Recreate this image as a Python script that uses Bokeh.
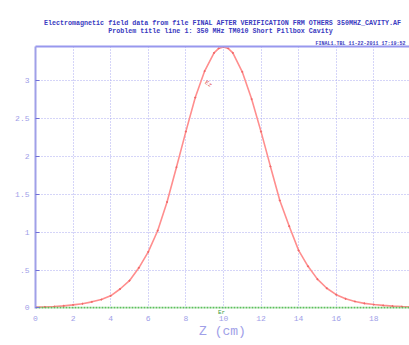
from bokeh.plotting import figure
from bokeh.models import (ColumnDataSource, FixedTicker, Label, LinearAxis, Range1d, Title)
from bokeh.embed import file_html
from bokeh.resources import INLINE

# ---- data ----
z_cm = [0, 0.5, 1, 1.5, 2, 2.5, 3, 3.5, 4, 4.5, 5, 5.5, 6, 6.5, 7, 7.5, 8, 8.5, 9, 9.5,
        9.75, 10, 10.25, 10.5, 11, 11.5, 12, 12.5, 13, 13.5, 14, 14.5, 15, 15.5, 16, 16.5,
        17, 17.5, 18, 18.5, 19, 19.5, 20]
ez = [0.01, 0.012, 0.018, 0.027, 0.04, 0.055, 0.08, 0.11, 0.16, 0.25, 0.36, 0.53, 0.74,
      1.02, 1.40, 1.86, 2.33, 2.78, 3.13, 3.37, 3.43, 3.45, 3.43, 3.37, 3.12, 2.76, 2.33,
      1.87, 1.42, 1.08, 0.76, 0.55, 0.38, 0.26, 0.175, 0.12, 0.085, 0.06, 0.045, 0.033,
      0.024, 0.018, 0.014]
er_z = [0, 20]
er = [0.0, 0.0]

x_ticks = [0, 2, 4, 6, 8, 10, 12, 14, 16, 18, 20]
y_ticks = [0, 0.5, 1, 1.5, 2, 2.5, 3]
y_tick_labels = ["0", ".5", "1", "1.5", "2", "2.5", "3"]

title1 = "Electromagnetic field data from file FINAL AFTER VERIFICATION FRM OTHERS 350MHZ_CAVITY.AF"
title2 = "Problem title line 1: 350 MHz TM010 Short Pillbox Cavity"
stamp = "FINAL1.TBL   11-22-2011  17:19:52"
x_label = "Z (cm)"
er_label_z = 9.9
ez_label_z, ez_label_v = 9.2, 2.96

AXC = "#a0a0e8"
GRIDC = "#aaaaf0"
TITLEC = "#3a3ac0"
MONO = "Liberation Mono"

p = figure(width=409, height=345, output_backend="svg", toolbar_location=None,
           x_range=Range1d(0, 19.9), y_range=Range1d(-0.008, 3.455),
           x_axis_location=None,
           min_border_left=35, min_border_right=0, min_border_top=46, min_border_bottom=37)
p.outline_line_color = None
p.background_fill_color = "white"

# "Er" series label just below the zero line (an unlabeled axis nearest the frame)
er_axis = LinearAxis(ticker=FixedTicker(ticks=[er_label_z]),
                     major_label_overrides={er_label_z: "Er"},
                     axis_line_color=None, major_tick_line_color=None,
                     minor_tick_line_color=None, major_tick_out=0, major_tick_in=0,
                     major_label_standoff=0, major_label_text_font=MONO,
                     major_label_text_font_size="6px", major_label_text_color="#40a040")
p.add_layout(er_axis, "below")

# main x axis
xax = LinearAxis(ticker=FixedTicker(ticks=x_ticks), axis_line_color=None,
                 major_tick_line_color=None, minor_tick_line_color=None,
                 major_tick_out=0, major_tick_in=0, major_label_standoff=-3,
                 major_label_text_font=MONO, major_label_text_font_size="8px",
                 major_label_text_color=AXC,
                 axis_label=x_label, axis_label_text_font=MONO,
                 axis_label_text_font_style="normal", axis_label_text_font_size="13px",
                 axis_label_text_color=AXC, axis_label_standoff=0)
p.add_layout(xax, "below")

# top border line (closest to the frame)
top = LinearAxis(ticker=FixedTicker(ticks=[]), axis_line_color="#9898ee", axis_line_width=2,
                 major_tick_line_color=None, minor_tick_line_color=None,
                 major_tick_out=0, major_tick_in=0, major_label_standoff=0)
p.add_layout(top, "above")

# stamp just above the border, then the two-line title (line 2 centred with
# non-breaking spaces, the font being monospaced)
p.add_layout(Title(text=stamp, text_font=MONO, text_font_style="bold", text_font_size="5px",
                   text_color=TITLEC, align="left", offset=280, standoff=0), "above")
pad = "\u00a0" * ((len(title1) - len(title2)) // 2)
p.title.text = title1 + "\n" + pad + title2
p.title.text_font = MONO
p.title.text_font_style = "bold"
p.title.text_font_size = "6.7px"
p.title.text_color = TITLEC
p.title.align = "center"
p.title.standoff = 8

# grid
p.xgrid.ticker = FixedTicker(ticks=x_ticks[1:])
p.ygrid.ticker = FixedTicker(ticks=y_ticks[1:])
for g in (p.xgrid, p.ygrid):
    g.grid_line_color = GRIDC
    g.grid_line_dash = "1 2"
    g.grid_line_width = 1

# y axis
yax = p.yaxis[0]
yax.ticker = FixedTicker(ticks=y_ticks)
yax.major_label_overrides = {t: l for t, l in zip(y_ticks, y_tick_labels)}
yax.major_label_text_font = MONO
yax.major_label_text_font_size = "8px"
yax.major_label_text_color = AXC
yax.minor_tick_line_color = None
yax.major_tick_out = 0
yax.major_tick_in = 4
yax.major_tick_line_color = "#7070d8"
yax.axis_line_color = AXC
yax.axis_line_width = 2
yax.major_label_standoff = 6

# series
src = ColumnDataSource(dict(z=z_cm, ez=ez))
p.line("z", "ez", source=src, line_color="#ff8e8e", line_width=1.6)
p.scatter("z", "ez", source=src, size=1.2, color="#f06868")
p.line(er_z, er, line_color="#5cc05c", line_width=2.5, line_dash="2 1")

p.add_layout(Label(x=ez_label_z, y=ez_label_v, text="Ez", text_font=MONO, text_font_size="6px",
                   text_color="#e05050", angle=-0.6, text_align="center", text_baseline="middle"))

open("out.html", "w").write(file_html(p, INLINE))
